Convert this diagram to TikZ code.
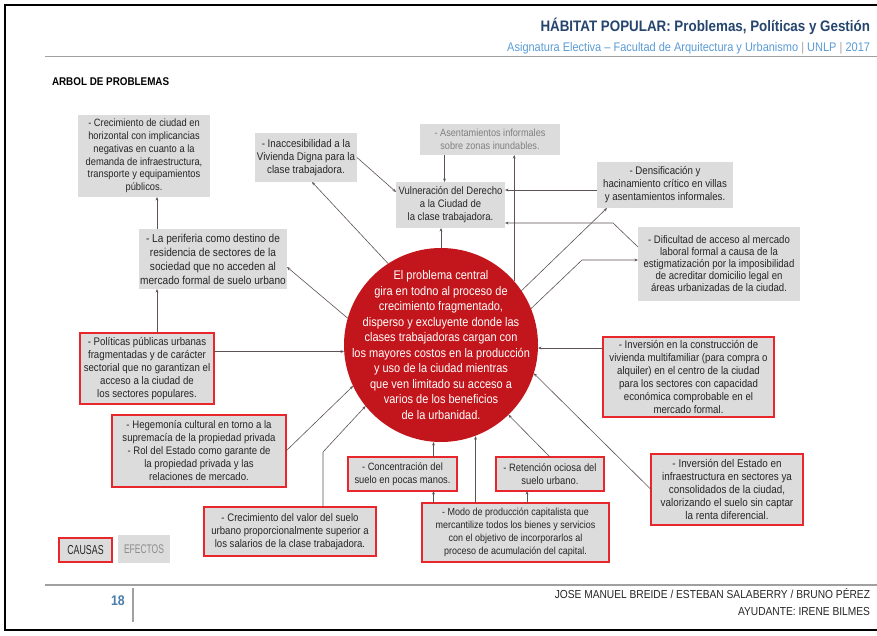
\documentclass[tikz,border=0pt]{standalone}
\usepackage{fontspec}
\setmainfont{Liberation Sans}[FakeStretch=0.88]
\newfontfamily\narrowfont{Liberation Sans}[FakeStretch=0.68]
\usetikzlibrary{arrows.meta,calc}
\definecolor{cred}{HTML}{C3161C}
\definecolor{bred}{HTML}{E8262B}
\definecolor{boxg}{HTML}{DCDCDC}
\definecolor{navy}{HTML}{26456E}
\definecolor{lblue}{HTML}{5B9BD5}
\definecolor{linec}{HTML}{5E5252}
\definecolor{txt}{HTML}{262626}
\definecolor{rulegray}{HTML}{A0A0A0}
\newcommand{\fs}[2]{\fontsize{#1}{#2}\selectfont}
\begin{document}
\begin{tikzpicture}[x=1pt,y=-1pt,
  sz/.style 2 args={minimum width=#1pt, minimum height=#2pt},
  effbox/.style={fill=boxg, inner sep=0pt, outer sep=0pt, align=center, text=txt, font=\fs{10.8}{12.8}},
  causebox/.style={effbox, draw=bred, line width=1.6pt},
  arr/.style={draw=linec, line width=0.6pt, -{Stealth[length=3.5pt,width=2.8pt]}},
  lbl/.style={inner sep=0pt, outer sep=0pt}]
\useasboundingbox (0,0) rectangle (877,636);
\fill[white] (0,0) rectangle (877,636);
% page frame
\draw[black, line width=2pt] (877,5) -- (5,5) -- (5,630) -- (877,630);
% header
\node[lbl, anchor=east, text=navy, font=\bfseries\fs{15.2}{18}] (title) at (870,26) {HÁBITAT POPULAR: Problemas, Políticas y Gestión};
\node[lbl, anchor=east, text=lblue, font=\fs{12.5}{14}] (subtitle) at (870,48) {Asignatura Electiva – Facultad de Arquitectura y Urbanismo {\color{rulegray}|} UNLP {\color{rulegray}|} 2017};
\draw[rulegray, line width=1pt] (45,57) -- (877,57);
\node[lbl, anchor=west, font=\bfseries\fs{11.2}{13}] (heading) at (52,82) {ARBOL DE PROBLEMAS};
% central problem
\node[circle, fill=cred, minimum size=194pt, inner sep=0pt, outer sep=0pt] (crc) at (441,345) {};
\node[lbl, text=white, align=center, font=\fs{12.5}{15.5}] (crctext) at (crc.center) {El problema central\\gira en todno al proceso de\\crecimiento fragmentado,\\disperso y excluyente donde las\\clases trabajadoras cargan con\\los mayores costos en la producción\\y uso de la ciudad mientras\\que ven limitado su acceso a\\varios de los beneficios\\de la urbanidad.};
% effects
\node[effbox, sz={132}{82}, font=\fs{10.6}{12.7}] (crec) at (144,156) {- Crecimiento de ciudad en\\horizontal con implicancias\\negativas en cuanto a la\\demanda de infraestructura,\\transporte y equipamientos\\públicos.};
\node[effbox, sz={102}{49}, font=\fs{11.1}{13.2}] (inac) at (306,157.5) {- Inaccesibilidad a la\\Vivienda Digna para la\\clase trabajadora.};
\node[effbox, sz={140}{31}, text=black!50, font=\fs{10.4}{12.5}] (asent) at (490,139.5) {- Asentamientos informales\\sobre zonas inundables.};
\node[effbox, sz={109}{46}, font=\fs{10.8}{13}] (vuln) at (450.5,205) {Vulneración del Derecho\\a la Ciudad de\\la clase trabajadora.};
\node[effbox, sz={136}{46}, font=\fs{11}{13}] (dens) at (665,185) {- Densificación y\\hacinamiento crítico en villas\\y asentamientos informales.};
\node[effbox, sz={162}{74}, font=\fs{10.9}{12}] (dific) at (719,264) {- Dificultad de acceso al mercado\\laboral formal a causa de la\\estigmatización por la imposibilidad\\de acreditar domicilio legal en\\áreas urbanizadas de la ciudad.};
\node[effbox, sz={148}{60}, font=\fs{11.5}{14}] (perif) at (213,259) {- La periferia como destino de\\residencia de sectores de la\\sociedad que no acceden al\\mercado formal de suelo urbano};
% causes
\node[causebox, sz={134}{71}, font=\fs{11}{12.9}] (polit) at (147,368.5) {- Políticas públicas urbanas\\fragmentadas y de carácter\\sectorial que no garantizan el\\acceso a la ciudad de\\los sectores populares.};
\node[causebox, sz={174}{72}, font=\fs{10.9}{13}] (hegem) at (199,451) {- Hegemonía cultural en torno a la\\supremacía de la propiedad privada\\- Rol del Estado como garante de\\la propiedad privada y las\\relaciones de mercado.};
\node[causebox, sz={109}{34}, font=\fs{10.6}{13}] (conc) at (402.5,474) {- Concentración del\\suelo en pocas manos.};
\node[causebox, sz={108}{34}, font=\fs{10.7}{13}] (reten) at (550,474) {- Retención ociosa del\\suelo urbano.};
\node[causebox, sz={172}{49}, font=\fs{10.9}{13.2}] (valor) at (290,531.5) {- Crecimiento del valor del suelo\\urbano proporcionalmente superior a\\los salarios de la clase trabajadora.};
\node[causebox, sz={187}{59}, font=\fs{10.2}{13}] (modo) at (515.5,532.5) {- Modo de producción capitalista que\\mercantilize todos los bienes y servicios\\con el objetivo de incorporarlos al\\proceso de acumulación del capital.};
\node[causebox, sz={171}{80}, font=\fs{11}{13}] (invviv) at (688.5,377) {- Inversión en la construcción de\\vivienda multifamiliar (para compra o\\alquiler) en el centro de la ciudad\\para los sectores con capacidad\\económica comprobable en el\\mercado formal.};
\node[causebox, sz={152}{71}, font=\fs{11.2}{13.2}] (invest) at (727,489.5) {- Inversión del Estado en\\infraestructura en sectores ya\\consolidados de la ciudad,\\valorizando el suelo sin captar\\la renta diferencial.};
% connectors: effects
\draw[arr] (crc.north) -- (crc.north |- vuln.south);
\draw[arr] ([xshift=-6pt]vuln.north |- asent.south) -- ([xshift=-6pt]vuln.north);
\draw[arr] (crc.41) -- (crc.41 |- asent.south);
\draw[arr] ([yshift=-5pt]dens.west) -- ([yshift=-5pt]dens.west -| vuln.east);
\coordinate (q1) at ([yshift=5pt]vuln.south east);
\draw[arr] ([yshift=17pt]dific.west) -- ([xshift=-25pt]dific.west |- q1) -- (q1);
\draw[arr] (crc.34) -- ([xshift=10pt]dens.south west);
\draw[arr] (crc.22) -- ([xshift=-56pt,yshift=4pt]dific.west) -- ([yshift=4pt]dific.west);
\draw[arr] (crc.123) -- ([xshift=6pt]inac.south);
\draw[arr] (inac.east) -- ([yshift=13pt]vuln.west);
\draw[arr] (crc.164) -- ([yshift=-8pt]perif.east);
\draw[arr] ([xshift=-56pt]perif.north) -- ([xshift=-56pt]perif.north |- crec.south);
% connectors: causes
\draw[arr] ([xshift=10pt]polit.north) -- ([xshift=10pt]polit.north |- perif.south);
\draw[arr] ([yshift=17pt]polit.east) -- ([yshift=17pt]polit.east -| crc.west);
\draw[arr] (hegem.east) -- (crc.205);
\draw[arr] ([xshift=33pt]valor.north) -- ([xshift=33pt,yshift=55pt]valor.north) -- (crc.219.5);
\draw[arr] ([xshift=31pt]conc.north) -- ([xshift=31pt]conc.north |- crc.south);
\draw[arr] ([xshift=-82pt]modo.north) -- ([xshift=-82pt]modo.north |- conc.south);
\draw[arr] ([xshift=-40pt]modo.north) -- ([xshift=-40pt]modo.north |- crc.290.5);
\draw[arr] ([xshift=11.5pt]modo.north) -- ([xshift=11.5pt]modo.north |- reten.south);
\draw[arr] (reten.north) -- (crc.314.7);
\draw[arr] ([yshift=29pt]invviv.west) -- ([yshift=29pt]invviv.west -| crc.east);
\draw[arr] (invest.west) -- (crc.343);
% legend
\node[causebox, sz={53}{24}, font=\narrowfont\fs{13}{15}] (causas) at (85.5,550) {CAUSAS};
\node[effbox, sz={52}{28}, text=black!45, font=\narrowfont\fs{12.5}{15}] (efectos) at (144,549) {EFECTOS};
% footer
\draw[rulegray, line width=2.5pt] (45,585) -- (877,585);
\draw[rulegray, line width=1.5pt] (133,588) -- (133,622);
\node[lbl, text=lblue!80!black, font=\bfseries\fs{14}{16}] (pagenum) at (118,601) {18};
\node[lbl, anchor=east, text=black!85, font=\fs{11.6}{13}] (authors) at (870,594) {JOSE MANUEL BREIDE / ESTEBAN SALABERRY / BRUNO PÉREZ};
\node[lbl, anchor=east, text=black!85, font=\fs{11.6}{13}] (helper) at (870,612) {AYUDANTE: IRENE BILMES};
\end{tikzpicture}
\end{document}
